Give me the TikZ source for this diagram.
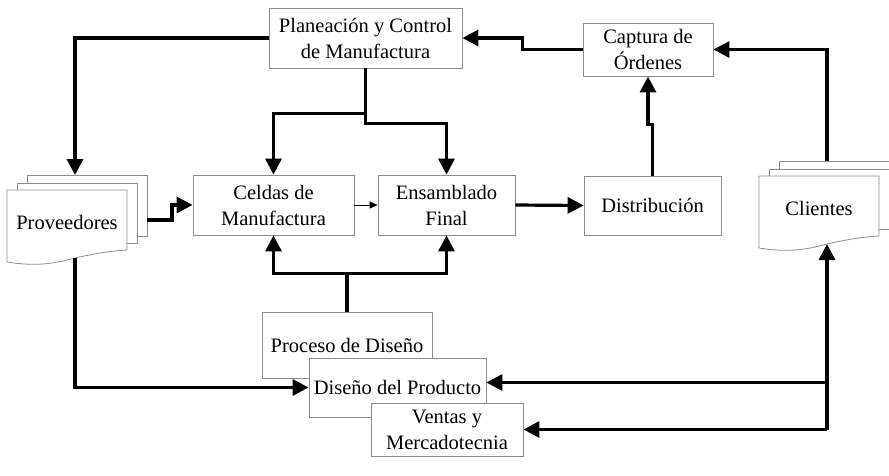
\documentclass[tikz,border=0pt]{standalone}
\usepackage{fontspec}
\setmainfont{Liberation Serif}
\usetikzlibrary{arrows.meta}

\tikzset{
  labelfont/.style={font=\fontsize{20.5}{26}\selectfont},
  box/.style={draw=black!45, line width=0.8pt, fill=white},
  block/.style={box, inner sep=0pt, align=center, labelfont},
  flow/.style={line width=3.2pt, line join=miter, -{Triangle[length=16pt,width=16pt]}},
  thinflow/.style={line width=0.8pt, -{Triangle[length=8pt,width=7pt]}},
}

% Stack of three document sheets; #1 name, #2 top-left corner of the front sheet, #3 label
\newcommand\docstack[3]{%
  \begin{scope}[shift={#2}]
    \draw[box] (20,-15) rectangle (140,46);
    \draw[box] (10,-7) rectangle (130,53);
    \draw[box] (0,0) -- (120,0) -- (120,60)
      .. controls (102,61) and (86,64) .. (68,68)
      .. controls (50,73) and (30,77) .. (0,72) -- cycle;
    \node[labelfont] (#1) at (60,32) {#3};
    \coordinate (#1-top) at (68,-15);
    \coordinate (#1-bot) at (68,68);
    \coordinate (#1-r) at (140,30);
  \end{scope}}

\begin{document}
\begin{tikzpicture}[x=1pt, y=-1pt]
  \useasboundingbox (0,0) rectangle (889,475);

  % blocks
  \node[block, minimum width=193pt, minimum height=60pt] (plan) at (365.5,38)
    {Planeación y Control\\de Manufactura};
  \node[block, minimum width=130pt, minimum height=53pt] (capt) at (648,49.5)
    {Captura de\\Órdenes};
  \node[block, minimum width=161pt, minimum height=60pt] (celdas) at (273.5,205)
    {Celdas de\\Manufactura};
  \node[block, minimum width=137pt, minimum height=60pt] (ens) at (446.5,205)
    {Ensamblado\\Final};
  \node[block, minimum width=137pt, minimum height=59pt] (dist) at (652.5,205.5)
    {Distribución};
  \node[block, minimum width=170pt, minimum height=66pt] (proc) at (347,345)
    {Proceso de Diseño};
  \node[block, minimum width=177pt, minimum height=59pt] (dis) at (397.5,387.5)
    {Diseño del Producto};
  \node[block, minimum width=152pt, minimum height=53pt] (ven) at (447,429.5)
    {Ventas y\\Mercadotecnia};

  % document stacks
  \docstack{prov}{(7,190)}{Proveedores}
  \docstack{cli}{(759,176)}{Clientes}

  % connectors
  \draw[flow] (plan.west) -| (prov-top);
  \draw[flow] (capt.west) -- ++(-60,0) |- (plan.east);
  \draw[flow] (cli-top) |- (capt.east);
  \draw[flow] (dist.north) -- ++(0,-51) -| (capt.south);
  \draw[flow] (plan.south) -- ++(0,45) -| (celdas.north);
  \draw[flow] (plan.south) -- ++(0,55) -| (ens.north);
  \draw[flow] (prov-r) -- ++(25,0) |- (celdas.west);
  \draw[thinflow] (celdas.east) -- (ens.west);
  \draw[flow] (ens.east) -- (dist.west);
  \draw[flow] (proc.north) -- ++(0,-38) -| (celdas.south);
  \draw[flow] (proc.north) -- ++(0,-38) -| (ens.south);
  \draw[flow] (prov-bot) |- (dis.west);
  \draw[flow] (cli-bot |- ven.east) -- (cli-bot);
  \draw[flow] (cli-bot |- ven.east) -- (ven.east);
  \draw[flow] (cli-bot |- dis.east) ++(0,-5) -- ([yshift=5pt]dis.east);
\end{tikzpicture}
\end{document}
